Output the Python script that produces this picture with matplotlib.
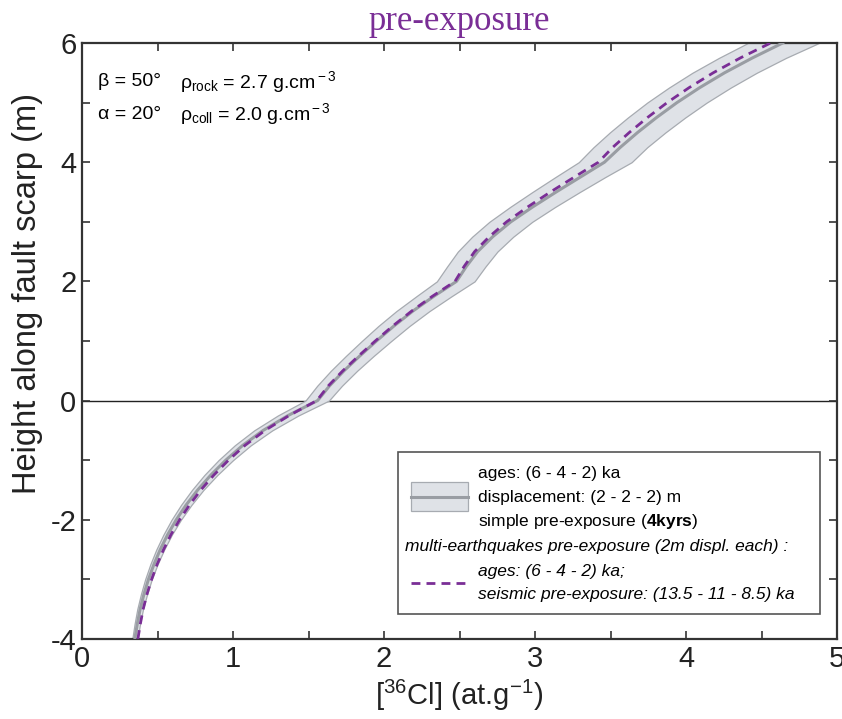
import matplotlib
matplotlib.use("Agg")
import matplotlib.pyplot as plt
from matplotlib.patches import Rectangle
from matplotlib.lines import Line2D
from matplotlib.ticker import MultipleLocator

plt.rcParams['font.family'] = ['Liberation Sans', 'DejaVu Sans']
plt.rcParams['mathtext.fontset'] = 'custom'
plt.rcParams['mathtext.rm'] = 'Liberation Sans'
plt.rcParams['mathtext.it'] = 'Liberation Sans:italic'
plt.rcParams['mathtext.bf'] = 'Liberation Sans:bold'
plt.rcParams['axes.unicode_minus'] = False

# height along the scarp (m)
heights = [-4, -3.75, -3.5, -3.25, -3, -2.75, -2.5, -2.25, -2, -1.75, -1.5, -1.25,
           -1, -0.75, -0.5, -0.25, 0, 0.25, 0.5, 0.75, 1, 1.25, 1.5, 1.75,
           2, 2.25, 2.5, 2.75, 3, 3.25, 3.5, 3.75, 4, 4.25, 4.5, 4.75,
           5, 5.25, 5.5, 5.75, 6]

# simple pre-exposure model (grey line) and its envelope
cl_simple = [0.350, 0.366, 0.385, 0.410, 0.440, 0.476, 0.518, 0.567, 0.624, 0.690, 0.766, 0.853,
             0.952, 1.065, 1.200, 1.365, 1.560, 1.640, 1.735, 1.840, 1.950, 2.065, 2.190, 2.330,
             2.480, 2.545, 2.620, 2.720, 2.840, 2.985, 3.140, 3.300, 3.460, 3.565, 3.680, 3.805,
             3.940, 4.090, 4.255, 4.440, 4.640]
cl_low = [0.333, 0.348, 0.366, 0.390, 0.418, 0.452, 0.492, 0.539, 0.593, 0.656, 0.728, 0.810,
          0.904, 1.012, 1.140, 1.297, 1.480, 1.558, 1.648, 1.748, 1.853, 1.962, 2.081, 2.214,
          2.350, 2.418, 2.489, 2.584, 2.698, 2.836, 2.983, 3.135, 3.290, 3.387, 3.496, 3.615,
          3.743, 3.886, 4.042, 4.218, 4.410]
cl_high = [0.368, 0.384, 0.404, 0.431, 0.462, 0.500, 0.544, 0.595, 0.655, 0.725, 0.804, 0.896,
           1.000, 1.118, 1.260, 1.433, 1.635, 1.722, 1.822, 1.932, 2.048, 2.168, 2.300, 2.447,
           2.600, 2.672, 2.751, 2.856, 2.982, 3.134, 3.297, 3.465, 3.640, 3.743, 3.864, 3.995,
           4.137, 4.295, 4.468, 4.662, 4.880]

# multi-earthquakes pre-exposure model (purple dashed)
cl_multi = [0.370, 0.386, 0.405, 0.430, 0.461, 0.497, 0.540, 0.589, 0.646, 0.712, 0.787, 0.873,
            0.970, 1.080, 1.212, 1.372, 1.555, 1.632, 1.727, 1.832, 1.942, 2.057, 2.182, 2.320,
            2.470, 2.530, 2.600, 2.697, 2.812, 2.952, 3.102, 3.260, 3.420, 3.515, 3.625, 3.745,
            3.875, 4.020, 4.180, 4.360, 4.560]

band_fill = '#dfe2e7'
band_edge = '#a7abb1'
grey_line = '#999da3'
purple = '#7a2e96'
axis_col = '#333333'

fig = plt.figure(figsize=(8.42, 7.19), dpi=100)
ax = fig.add_axes([0.0974, 0.1113, 0.8967, 0.8289])

ax.fill_betweenx(heights, cl_low, cl_high, facecolor=band_fill, edgecolor=band_edge,
                 linewidth=0.9, zorder=2)
ax.plot(cl_simple, heights, color=grey_line, linewidth=2.2, zorder=3)
ax.plot(cl_multi, heights, color=purple, linewidth=2.0, dashes=(3.2, 2.2), zorder=4)
ax.axhline(0, color='#222222', linewidth=1.0, zorder=1)

ax.set_xlim(0, 5)
ax.set_ylim(-4, 6)
ax.xaxis.set_major_locator(MultipleLocator(1))
ax.xaxis.set_minor_locator(MultipleLocator(0.5))
ax.yaxis.set_major_locator(MultipleLocator(2))
ax.yaxis.set_minor_locator(MultipleLocator(1))
ax.tick_params(which='both', direction='in', top=True, right=True, color=axis_col,
               width=1.2, labelsize=21, labelcolor='#222222')
ax.tick_params(which='major', length=6, pad=4)
ax.tick_params(which='minor', length=6)
for s in ax.spines.values():
    s.set_color(axis_col)
    s.set_linewidth(1.6)

ax.set_xlabel(r'[$^{36}$Cl] (at.g$^{-1}$)', fontsize=21, color='#222222', labelpad=4)
ax.set_ylabel('Height along fault scarp (m)', fontsize=23.5, color='#222222')
ax.yaxis.set_label_coords(-0.052, 0.58)
ax.set_title('pre-exposure', fontsize=25, color=purple, family='Liberation Serif', pad=9)

# model parameters
ax.text(0.021, 0.935, 'β = 50°', transform=ax.transAxes, fontsize=14, va='center')
ax.text(0.13, 0.935, r'ρ$_{\rm rock}$ = 2.7 g.cm$^{\rm -3}$', transform=ax.transAxes,
        fontsize=14, va='center')
ax.text(0.021, 0.88, 'α = 20°', transform=ax.transAxes, fontsize=14, va='center')
ax.text(0.13, 0.88, r'ρ$_{\rm coll}$ = 2.0 g.cm$^{\rm -3}$', transform=ax.transAxes,
        fontsize=14, va='center')

# legend box
tr = ax.transAxes
ax.add_patch(Rectangle((0.4185, 0.042), 0.559, 0.272, transform=tr, facecolor='white',
                       edgecolor='#555555', linewidth=1.2, zorder=5))
ax.add_patch(Rectangle((0.436, 0.214), 0.075, 0.049, transform=tr, facecolor=band_fill,
                       edgecolor=band_edge, linewidth=0.9, zorder=6))
ax.add_line(Line2D([0.436, 0.511], [0.2385, 0.2385], transform=tr, color=grey_line,
                   linewidth=2.2, zorder=7))
ax.add_line(Line2D([0.436, 0.511], [0.094, 0.094], transform=tr, color=purple,
                   linewidth=2.0, dashes=(3.2, 2.2), zorder=7))
lx = 0.524
fs = 12.5
ax.text(lx, 0.277, 'ages: (6 - 4 - 2) ka', transform=tr, fontsize=fs, va='center', zorder=8)
ax.text(lx, 0.237, 'displacement: (2 - 2 - 2) m', transform=tr, fontsize=fs, va='center',
        zorder=8)
ax.text(lx, 0.197, r'simple pre-exposure ($\mathbf{4kyrs}$)', transform=tr, fontsize=fs,
        va='center', zorder=8)
ax.text(0.428, 0.155, 'multi-earthquakes pre-exposure (2m displ. each) :', transform=tr,
        fontsize=fs, style='italic', va='center', zorder=8)
ax.text(lx, 0.113, 'ages: (6 - 4 - 2) ka;', transform=tr, fontsize=fs, style='italic',
        va='center', zorder=8)
ax.text(lx, 0.074, 'seismic pre-exposure: (13.5 - 11 - 8.5) ka', transform=tr, fontsize=fs,
        style='italic', va='center', zorder=8)

fig.savefig('out.png', dpi=100)
